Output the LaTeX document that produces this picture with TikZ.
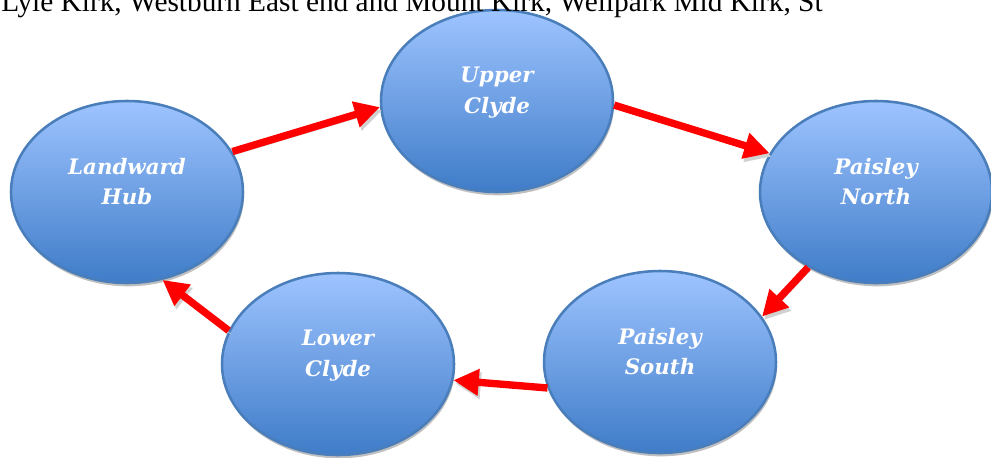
\documentclass[tikz,border=0pt]{standalone}
\usepackage{fontspec}
\setmainfont{Liberation Serif}
\newfontfamily\bubblefont{DejaVu Serif}
\usetikzlibrary{shapes.geometric,arrows.meta,shadows}
\definecolor{bubtop}{HTML}{9EC4FF}
\definecolor{bubbot}{HTML}{3F7CC8}
\definecolor{bubedge}{HTML}{4A7EBB}
\definecolor{arrred}{HTML}{FF0000}
\begin{document}
\begin{tikzpicture}[x=0.75pt,y=-0.75pt,
  bubble/.style={ellipse, draw=bubedge, line width=1.9pt,
    top color=bubtop, bottom color=bubbot,
    minimum width=174pt, minimum height=136.5pt, inner sep=0pt,
    align=center, text=white,
    font=\bubblefont\fontsize{16}{23}\selectfont\bfseries\itshape,
    drop shadow={shadow xshift=0.8pt, shadow yshift=-2.5pt, fill=black, opacity=0.25}},
  flow/.style={draw=arrred, line width=5.5pt, -{Triangle[length=19pt,width=19pt]},
    preaction={draw=black!18, transform canvas={shift={(1.5pt,-2.5pt)}}}},
  hdr/.style={anchor=base west, inner sep=0pt, font=\fontsize{22}{26}\selectfont}
]
\useasboundingbox (0,0) rectangle (991,457);
\clip (0,0) rectangle (991,457);
\node[bubble] (lh) at (127,192) {Landward\\Hub\rule[-16pt]{0pt}{0pt}};
\node[bubble] (uc) at (497,101) {Upper\\Clyde\rule[-16pt]{0pt}{0pt}};
\node[bubble] (pn) at (876,192) {Paisley\\North\rule[-16pt]{0pt}{0pt}};
\node[bubble] (ps) at (660,362) {Paisley\\South\rule[-16pt]{0pt}{0pt}};
\node[bubble] (lc) at (338,364) {Lower\\Clyde\rule[-16pt]{0pt}{0pt}};
\draw[flow] (lh.21) -- (uc.183);
\draw[flow] (uc.-2) -- (pn.160);
\draw[flow] (pn.228) -- (ps.24);
\draw[flow] (ps.193) -- (lc.-8);
\draw[flow] (lc.163) -- (lh.-68);
\node[hdr] (head) at (1,11) {Lyle Kirk, Westburn East end and Mount Kirk, Wellpark Mid Kirk, St};
\end{tikzpicture}
\end{document}
